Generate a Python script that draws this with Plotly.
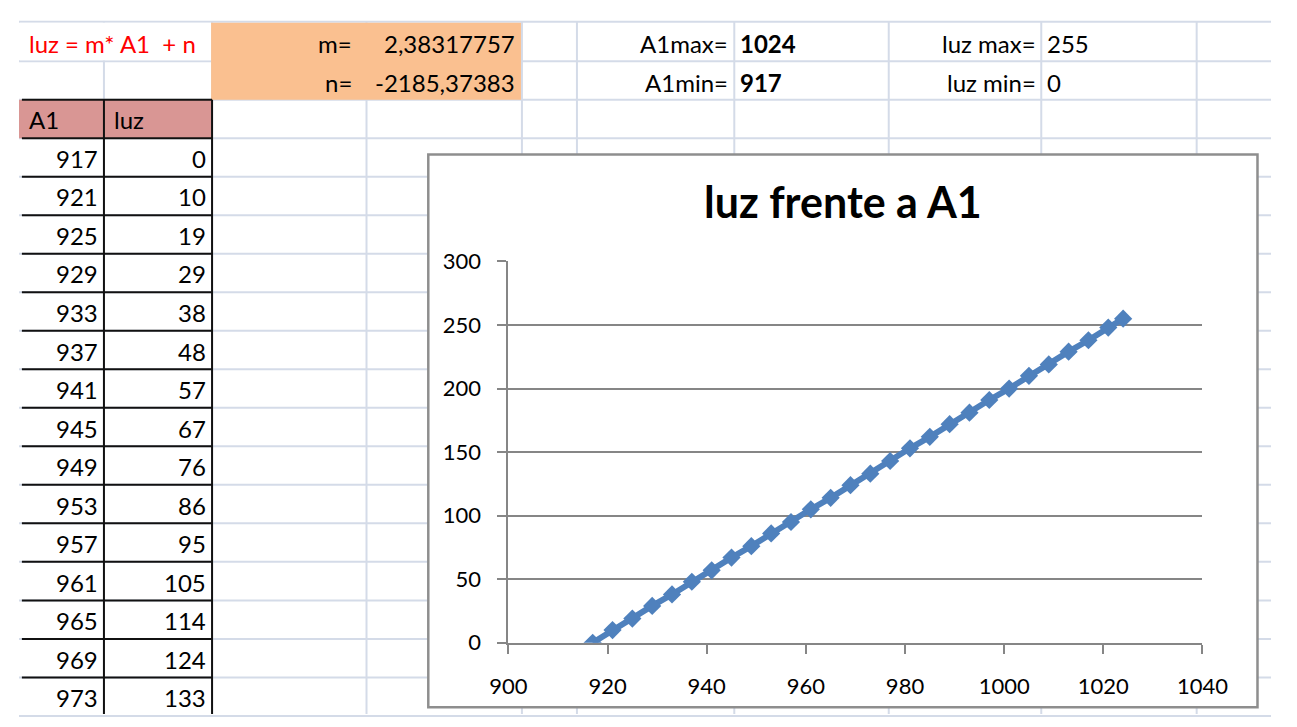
import plotly.graph_objects as go

# ---------------- data ----------------
A1 = [917, 921, 925, 929, 933, 937, 941, 945, 949, 953, 957, 961, 965, 969,
      973, 977, 981, 985, 989, 993, 997, 1001, 1005, 1009, 1013, 1017, 1021, 1024]
luz = [0, 10, 19, 29, 38, 48, 57, 67, 76, 86, 95, 105, 114, 124,
       133, 143, 153, 162, 172, 181, 191, 200, 210, 219, 229, 238, 248, 255]

formula_text = "luz = m* A1 \u00a0+ n"
m_label, m_value = "m=", "2,38317757"
n_label, n_value = "n=", "-2185,37383"
a1max_label, a1max_value = "A1max=", "1024"
a1min_label, a1min_value = "A1min=", "917"
luzmax_label, luzmax_value = "luz max=", "255"
luzmin_label, luzmin_value = "luz min=", "0"
col_headers = ["A1", "luz"]
chart_title = "luz frente a A1"
x_ticks = [900, 920, 940, 960, 980, 1000, 1020, 1040]
y_ticks = [0, 50, 100, 150, 200, 250, 300]

# ---------------- geometry helpers ----------------
W, H = 1297, 727
FONT = "Lato, Calibri, 'Open Sans', sans-serif"
def X(p):
    return p / W
def Y(p):
    return 1 - p / H

shapes = []
annotations = []

def line(x0, y0, x1, y1, color, width):
    shapes.append(dict(type="line", xref="paper", yref="paper",
                       x0=X(x0), y0=Y(y0), x1=X(x1), y1=Y(y1),
                       line=dict(color=color, width=width), layer="below"))

def rect(x0, y0, x1, y1, fill, lc=None, lw=0):
    shapes.append(dict(type="rect", xref="paper", yref="paper",
                       x0=X(x0), y0=Y(y0), x1=X(x1), y1=Y(y1),
                       fillcolor=fill,
                       line=dict(color=lc or fill, width=lw), layer="below"))

def text(t, x, y, anchor="right", color="#000000", size=24):
    annotations.append(dict(text=t, xref="paper", yref="paper", x=X(x), y=Y(y),
                            xanchor=anchor, yanchor="middle", showarrow=False,
                            font=dict(family=FONT, size=size, color=color)))

# ---------------- spreadsheet grid ----------------
GRID = "#D4DBE8"
row_lines = [8, 49, 89] + [129 + 40 * k for k in range(16)]
col_lines = [88, 200, 360, 521, 578, 741, 901, 1059, 1220]
for yy in row_lines:
    line(0, yy, W, yy, GRID, 2)
for xx in col_lines:
    line(xx, 8, xx, H, GRID, 2)

# row-1 overflow text area (no cell lines there)
rect(1, 9, 199, 48, "#FFFFFF")
# orange block
rect(199, 9, 520, 89, "#FAC090")
# table header fill
rect(0, 89, 200, 129, "#D99694")

# table borders
BLACK = "#111111"
table_rows = 15
for k in range(table_rows + 1):
    yy = 89 + 40 * k
    line(3, yy, 200, yy, BLACK, 2)
line(88, 89, 88, H, BLACK, 2)
line(200, 89, 200, H, BLACK, 2)

# chart area
rect(424, 146, 1283, 720, "#FFFFFF", "#8E8E8E", 2.5)

# ---------------- spreadsheet texts ----------------
text(formula_text, 8, 31, anchor="left", color="#FF0000")
text(m_label, 347, 31)
text(m_value, 516, 31)
text(n_label, 347, 71)
text(n_value, 516, 71)
text(a1max_label, 737, 31)
text("<b>" + a1max_value + "</b>", 745, 31, anchor="left")
text(a1min_label, 737, 71)
text("<b>" + a1min_value + "</b>", 745, 71, anchor="left")
text(luzmax_label, 1056, 31)
text(luzmax_value, 1063, 31, anchor="left")
text(luzmin_label, 1056, 71)
text(luzmin_value, 1063, 71, anchor="left")
text(col_headers[0], 8, 110, anchor="left")
text(col_headers[1], 96, 110, anchor="left")
for k in range(table_rows):
    yc = 150 + 40 * k
    text(str(A1[k]), 84, yc)
    text(str(luz[k]), 196, yc)

# ---------------- chart ----------------
BLUE = "#4F81BD"
AX = "#868686"
fig = go.Figure()
fig.add_trace(go.Scatter(
    x=A1, y=luz, mode="lines+markers",
    line=dict(color=BLUE, width=6),
    marker=dict(symbol="diamond", size=14, color=BLUE),
    showlegend=False, hoverinfo="x+y"))

fig.update_layout(
    autosize=True,
    margin=dict(l=0, r=0, t=0, b=0),
    paper_bgcolor="#FFFFFF",
    plot_bgcolor="rgba(0,0,0,0)",
    showlegend=False,
    shapes=shapes,
    annotations=annotations,
    title=dict(text="<b>" + chart_title + "</b>", x=X(853.5), y=Y(196),
               xref="paper", yref="paper", xanchor="center", yanchor="middle",
               font=dict(family=FONT, size=43, color="#000000")),
    xaxis=dict(domain=[X(507), X(1226)], range=[900, 1040],
               tickmode="array", tickvals=x_ticks,
               showgrid=False, zeroline=False,
               showline=True, linecolor=AX, linewidth=2,
               ticks="outside", ticklen=9, tickwidth=2, tickcolor=AX,
               ticklabelstandoff=14,
               tickfont=dict(family=FONT, size=22, color="#000000")),
    yaxis=dict(domain=[Y(653), Y(257)], range=[0, 300],
               tickmode="array", tickvals=y_ticks,
               showgrid=True, gridcolor=AX, gridwidth=2, zeroline=False,
               showline=True, linecolor=AX, linewidth=2,
               ticks="outside", ticklen=9, tickwidth=2, tickcolor=AX,
               ticklabelstandoff=12,
               tickfont=dict(family=FONT, size=22, color="#000000")),
)

fig.write_html(
    "out.html",
    default_width="100vw",
    default_height="100vh",
    config={"displayModeBar": False, "responsive": True},
    post_script="document.body.style.margin='0';"
                "document.documentElement.style.margin='0';"
                "document.body.style.overflow='hidden';"
                "document.documentElement.style.overflow='hidden';",
)
